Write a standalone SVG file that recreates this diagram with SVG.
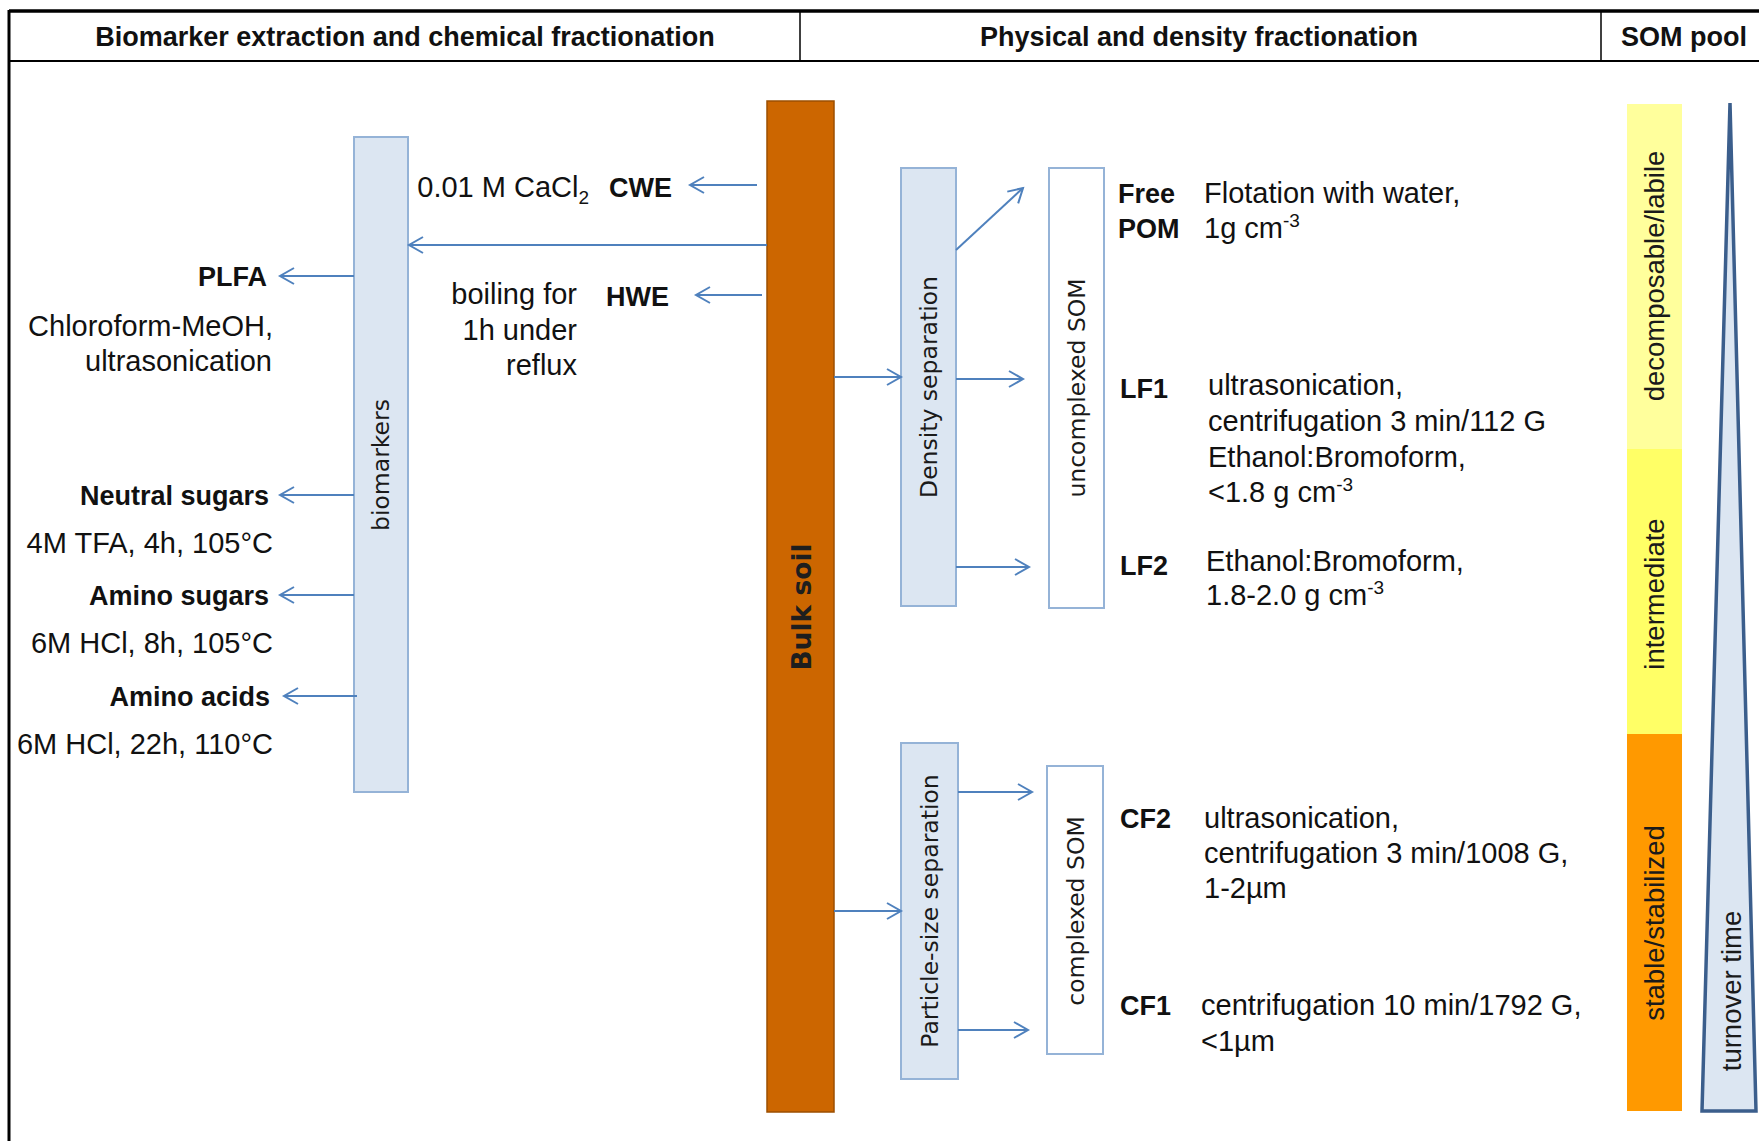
<svg xmlns="http://www.w3.org/2000/svg" width="1759" height="1141" viewBox="0 0 1759 1141">
<style>
.hdr{font-family:"Liberation Sans",Arial,sans-serif;font-weight:bold;font-size:27px;fill:#111;text-anchor:middle}
.t{font-family:"Liberation Sans",Arial,sans-serif;font-size:29px;fill:#111}
.b{font-family:"Liberation Sans",Arial,sans-serif;font-weight:bold;font-size:27px;fill:#111}
.e{text-anchor:end}
.v{font-family:"DejaVu Sans",Verdana,sans-serif;font-size:23.5px;fill:#1a1a1a;text-anchor:middle}
.p{font-family:"Liberation Sans",Arial,sans-serif;font-size:27.5px;fill:#1a1a1a;text-anchor:middle}
.box{fill:#DCE6F2;stroke:#95B3D7;stroke-width:2}
.wbox{fill:#FFFFFF;stroke:#95B3D7;stroke-width:2}
.c{stroke:#4F81BD;stroke-width:2;fill:none;marker-end:url(#ah)}
.frame{stroke:#000;fill:none}
</style>
<defs>
<marker id="ah" markerUnits="userSpaceOnUse" viewBox="0 0 20 20" markerWidth="20" markerHeight="20" refX="17" refY="10" orient="auto">
<path d="M3,2 L17,10 L3,18" fill="none" stroke="#4F81BD" stroke-width="2"/>
</marker>
</defs>
<rect width="1759" height="1141" fill="#FFFFFF"/>
<g id="frame">
<line class="frame" x1="9" y1="11" x2="1759" y2="11" stroke-width="3.5"/>
<line class="frame" x1="9" y1="10" x2="9" y2="1141" stroke-width="3"/>
<line class="frame" x1="9" y1="61" x2="1759" y2="61" stroke-width="2"/>
<line class="frame" x1="800" y1="11" x2="800" y2="61" stroke-width="1.5"/>
<line class="frame" x1="1601" y1="11" x2="1601" y2="61" stroke-width="1.5"/>
<text class="hdr" x="405" y="46">Biomarker extraction and chemical fractionation</text>
<text class="hdr" x="1199" y="46">Physical and density fractionation</text>
<text class="hdr" x="1684" y="46">SOM pool</text>
</g>
<g id="bulk-soil">
<rect x="767" y="101" width="67" height="1011" fill="#CC6600" stroke="#9C4F00" stroke-width="1.5"/>
<text transform="translate(801,607) rotate(-90)" x="0" y="9.5" font-family="DejaVu Sans,Verdana,sans-serif" font-weight="bold" font-size="26.5" fill="#1e1e1e" text-anchor="middle">Bulk soil</text>
</g>
<g id="biomarkers">
<rect class="box" x="354" y="137" width="54" height="655"/>
<text class="v" transform="translate(381,465) rotate(-90)" x="0" y="8">biomarkers</text>
</g>
<g id="cwe">
<text class="t e" x="589" y="197">0.01 M CaCl<tspan font-size="19" dy="7">2</tspan></text>
<text class="b" x="609" y="197">CWE</text>
</g>
<g id="hwe">
<text class="t e" x="577" y="304">boiling for</text>
<text class="t e" x="577" y="340">1h under</text>
<text class="t e" x="577" y="375">reflux</text>
<text class="b" x="606" y="306">HWE</text>
</g>
<g id="plfa">
<text class="b e" x="267" y="286">PLFA</text>
<text class="t e" x="273" y="336">Chloroform-MeOH,</text>
<text class="t e" x="272" y="371">ultrasonication</text>
</g>
<g id="neutral-sugars">
<text class="b e" x="269" y="505">Neutral sugars</text>
<text class="t e" x="273" y="553">4M TFA, 4h, 105°C</text>
</g>
<g id="amino-sugars">
<text class="b e" x="269" y="605">Amino sugars</text>
<text class="t e" x="273" y="653">6M HCl, 8h, 105°C</text>
</g>
<g id="amino-acids">
<text class="b e" x="270" y="706">Amino acids</text>
<text class="t e" x="273" y="754">6M HCl, 22h, 110°C</text>
</g>
<g id="density-separation">
<rect class="box" x="901" y="168" width="55" height="438"/>
<text class="v" transform="translate(929,387) rotate(-90)" x="0" y="8">Density separation</text>
</g>
<g id="uncomplexed-som">
<rect class="wbox" x="1049" y="168" width="55" height="440"/>
<text class="v" transform="translate(1077,388) rotate(-90)" x="0" y="8">uncomplexed SOM</text>
</g>
<g id="particle-size-separation">
<rect class="box" x="901" y="743" width="57" height="336"/>
<text class="v" transform="translate(930,911) rotate(-90)" x="0" y="8">Particle-size separation</text>
</g>
<g id="complexed-som">
<rect class="wbox" x="1047" y="766" width="56" height="288"/>
<text class="v" transform="translate(1076,911) rotate(-90)" x="0" y="8">complexed SOM</text>
</g>
<g id="free-pom">
<text class="b" x="1118" y="203">Free</text>
<text class="b" x="1118" y="238">POM</text>
<text class="t" x="1204" y="203">Flotation with water,</text>
<text class="t" x="1204" y="238">1g cm<tspan font-size="19" dy="-11">-3</tspan></text>
</g>
<g id="lf1">
<text class="b" x="1120" y="398">LF1</text>
<text class="t" x="1208" y="395">ultrasonication,</text>
<text class="t" x="1208" y="431">centrifugation 3 min/112 G</text>
<text class="t" x="1208" y="467">Ethanol:Bromoform,</text>
<text class="t" x="1208" y="502">&lt;1.8 g cm<tspan font-size="19" dy="-11">-3</tspan></text>
</g>
<g id="lf2">
<text class="b" x="1120" y="575">LF2</text>
<text class="t" x="1206" y="571">Ethanol:Bromoform,</text>
<text class="t" x="1206" y="605">1.8-2.0 g cm<tspan font-size="19" dy="-11">-3</tspan></text>
</g>
<g id="cf2">
<text class="b" x="1120" y="828">CF2</text>
<text class="t" x="1204" y="828">ultrasonication,</text>
<text class="t" x="1204" y="863">centrifugation 3 min/1008 G,</text>
<text class="t" x="1204" y="898">1-2µm</text>
</g>
<g id="cf1">
<text class="b" x="1120" y="1015">CF1</text>
<text class="t" x="1201" y="1015">centrifugation 10 min/1792 G,</text>
<text class="t" x="1201" y="1051">&lt;1µm</text>
</g>
<g id="som-pool">
<rect x="1627" y="104" width="55" height="345" fill="#FFFF9C"/>
<rect x="1627" y="449" width="55" height="285" fill="#FFFF66"/>
<rect x="1627" y="734" width="55" height="377" fill="#FF9900"/>
<text class="p" transform="translate(1654,276) rotate(-90)" x="0" y="10">decomposable/labile</text>
<text class="p" transform="translate(1654,594) rotate(-90)" x="0" y="10">intermediate</text>
<text class="p" transform="translate(1654,923) rotate(-90)" x="0" y="10">stable/stabilized</text>
</g>
<g id="turnover-time">
<polygon points="1730,103 1756,1111 1702,1111" fill="#DCE6F2" stroke="#3B5E8C" stroke-width="3.5" stroke-linejoin="miter"/>
<text class="p" transform="translate(1731,991) rotate(-90)" x="0" y="10">turnover time</text>
</g>
<g id="connectors">
<line class="c" x1="757" y1="185" x2="690" y2="185"/>
<line class="c" x1="767" y1="245" x2="409" y2="245"/>
<line class="c" x1="762" y1="295" x2="696" y2="295"/>
<line class="c" x1="354" y1="276" x2="280" y2="276"/>
<line class="c" x1="354" y1="495" x2="280" y2="495"/>
<line class="c" x1="354" y1="595" x2="280" y2="595"/>
<line class="c" x1="357" y1="696" x2="284" y2="696"/>
<line class="c" x1="834" y1="377" x2="901" y2="377"/>
<line class="c" x1="834" y1="911" x2="901" y2="911"/>
<line class="c" x1="956" y1="250" x2="1023" y2="188"/>
<line class="c" x1="956" y1="379" x2="1023" y2="379"/>
<line class="c" x1="956" y1="567" x2="1029" y2="567"/>
<line class="c" x1="958" y1="792" x2="1032" y2="792"/>
<line class="c" x1="958" y1="1030" x2="1028" y2="1030"/>
</g>
</svg>
